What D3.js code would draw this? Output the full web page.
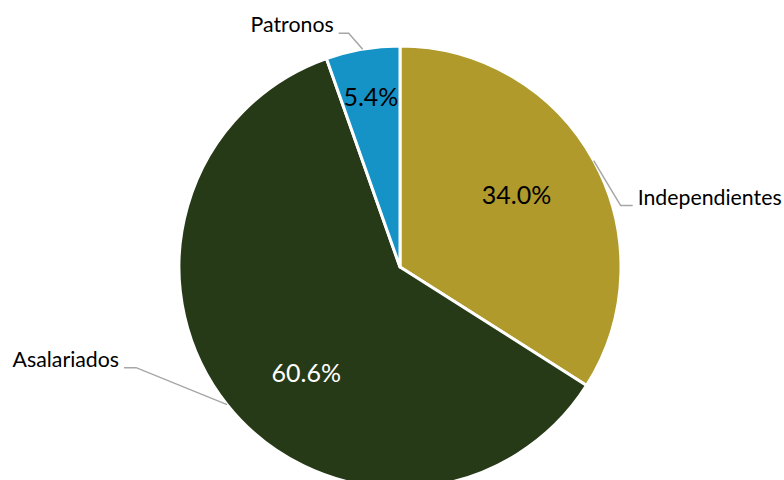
<!DOCTYPE html>
<html>
<head>
<meta charset="utf-8">
<script src="https://cdn.jsdelivr.net/npm/d3@7"></script>
<style>
  html, body { margin: 0; padding: 0; background: #fff; }
  svg { display: block; }
  text { font-family: Lato, "Open Sans", sans-serif; }
</style>
</head>
<body>
<div id="chart"></div>
<script>
// Employment category shares (%)
const categories = ["Independientes", "Asalariados", "Patronos"];
const shares = [34.0, 60.6, 5.4];
const sliceColors = ["#AF9A2B", "#263A17", "#1593C6"];
const valueTextColors = ["#000000", "#FFFFFF", "#000000"];

const width = 784, height = 480;
const cx = 400, cy = 267, radius = 221;

const svg = d3.select("#chart").append("svg")
  .attr("width", width).attr("height", height);

const g = svg.append("g").attr("transform", `translate(${cx},${cy})`);

const pie = d3.pie().sort(null).value(d => d.value);
const data = pie(categories.map((c, i) => ({ name: c, value: shares[i], i })));

const arc = d3.arc().innerRadius(0).outerRadius(radius);

g.selectAll("path.slice")
  .data(data)
  .join("path")
  .attr("class", "slice")
  .attr("d", arc)
  .attr("fill", d => sliceColors[d.data.i])
  .attr("stroke", "#fff")
  .attr("stroke-width", 3)
  .attr("stroke-linejoin", "round");

// Value labels: radial distance (fraction of radius) and angular nudge (deg)
const valuePlacement = [
  { r: 0.62, da: -3 },
  { r: 0.64, da: -10 },
  { r: 0.78, da: 0 }
];

g.selectAll("text.value")
  .data(data)
  .join("text")
  .attr("class", "value")
  .attr("transform", d => {
    const p = valuePlacement[d.data.i];
    const a = (d.startAngle + d.endAngle) / 2 + p.da * Math.PI / 180;
    const rr = radius * p.r;
    return `translate(${rr * Math.sin(a)},${-rr * Math.cos(a)})`;
  })
  .attr("text-anchor", "middle")
  .attr("dy", "0.36em")
  .attr("font-size", 25)
  .attr("fill", d => valueTextColors[d.data.i])
  .text(d => d3.format(".1f")(d.value) + "%");

// Category labels: leader starts at the slice's mid-angle on the rim,
// runs to an elbow (offset from the rim point), then a short horizontal tail.
const leaderSpec = [
  { ex: 27, ey: 45, dir: 1, hor: 12 },
  { ex: -91, ey: -37, dir: -1, hor: 12 },
  { ex: -14, ey: -16, dir: -1, hor: 10 }
];

const labelG = g.append("g");
data.forEach(d => {
  const s = leaderSpec[d.data.i];
  const a = (d.startAngle + d.endAngle) / 2;
  const x0 = radius * Math.sin(a), y0 = -radius * Math.cos(a);
  const x1 = x0 + s.ex, y1 = y0 + s.ey;
  const x2 = x1 + s.dir * s.hor;
  labelG.append("polyline")
    .attr("points", [[x0, y0], [x1, y1], [x2, y1]].map(p => p.join(",")).join(" "))
    .attr("fill", "none")
    .attr("stroke", "#A6A6A6")
    .attr("stroke-width", 1.5);
  labelG.append("text")
    .attr("x", x2 + s.dir * 5)
    .attr("y", y1 - 1)
    .attr("text-anchor", s.dir > 0 ? "start" : "end")
    .attr("font-size", 21.3)
    .attr("fill", "#000")
    .text(d.data.name);
});
</script>
</body>
</html>
